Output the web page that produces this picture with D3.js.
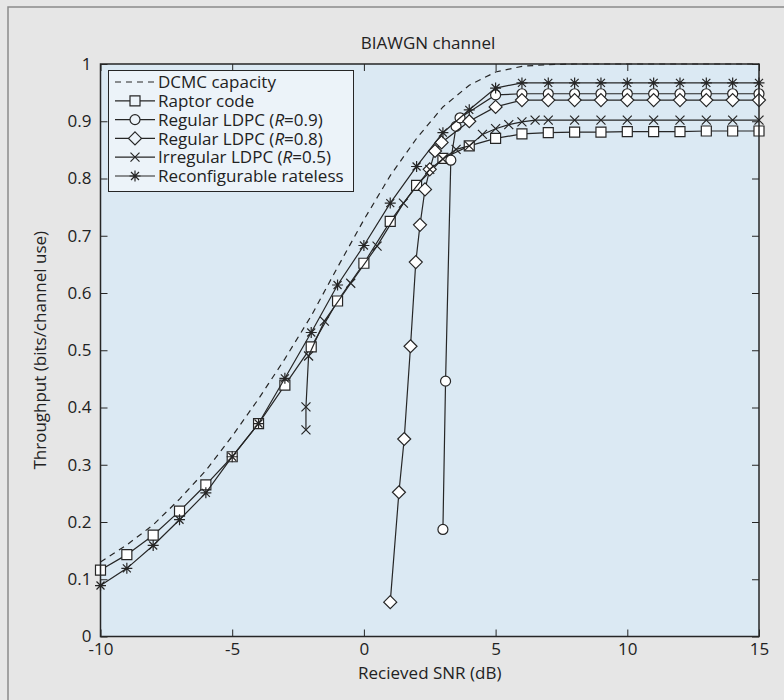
<!DOCTYPE html>
<html>
<head>
<meta charset="utf-8">
<script src="https://cdn.jsdelivr.net/npm/d3@7"></script>
<style>
body { margin: 0; background: #e6e6e6; }
text { font-family: "Open Sans", sans-serif; fill: #222; }
</style>
</head>
<body>
<svg id="chart" width="784" height="700"></svg>
<script>
// ---- data ----
var snrInt = [-10,-9,-8,-7,-6,-5,-4,-3,-2,-1,0,1,2,3,4,5,6,7,8,9,10,11,12,13,14,15];
var dcmcTp = [0.13,0.16,0.195,0.24,0.29,0.35,0.415,0.485,0.56,0.645,0.728,0.805,0.87,0.925,0.963,0.986,0.996,0.999,1,1,1,1,1,1,1,1];
var raptorTp = [0.116,0.143,0.177,0.219,0.265,0.314,0.372,0.439,0.506,0.586,0.652,0.725,0.788,0.835,0.857,0.870,0.878,0.880,0.881,0.881,0.882,0.882,0.882,0.883,0.883,0.883];
var ratelessTp = [0.089,0.119,0.159,0.204,0.251,0.314,0.372,0.451,0.531,0.614,0.683,0.757,0.821,0.880,0.920,0.958,0.967,0.967,0.967,0.967,0.967,0.967,0.967,0.967,0.967,0.967];

var ldpc9Snr = [3.0,3.1,3.3,3.5,3.65,5,6,7,8,9,10,11,12,13,14,15];
var ldpc9Tp  = [0.187,0.446,0.832,0.891,0.906,0.946,0.948,0.948,0.948,0.948,0.948,0.948,0.948,0.948,0.948,0.948];

var ldpc8Snr = [1.0,1.33,1.53,1.77,1.97,2.13,2.32,2.5,2.7,2.95,4,5,6,7,8,9,10,11,12,13,14,15];
var ldpc8Tp  = [0.06,0.252,0.345,0.507,0.654,0.719,0.781,0.816,0.848,0.863,0.9,0.925,0.937,0.937,0.937,0.937,0.937,0.937,0.937,0.937,0.937,0.937];

var irrSnr = [-2.2,-2.2,-2.1,-1.5,-0.5,0.5,1.5,2.5,3,3.5,4,4.5,5,5.5,6,6.5,7,8,9,10,11,12,13,14,15];
var irrTp  = [0.361,0.401,0.49,0.551,0.617,0.682,0.757,0.816,0.834,0.851,0.857,0.877,0.887,0.894,0.899,0.902,0.902,0.902,0.902,0.902,0.902,0.902,0.902,0.902,0.902];

var xTicks = [-10,-5,0,5,10,15];
var xTickLabels = ["-10","-5","0","5","10","15"];
var yTicks = [0,0.1,0.2,0.3,0.4,0.5,0.6,0.7,0.8,0.9,1];
var yTickLabels = ["0","0.1","0.2","0.3","0.4","0.5","0.6","0.7","0.8","0.9","1"];

function zip(xs, ys) { return xs.map(function(x,i){ return {x:x, y:ys[i]}; }); }

var series = [
  {name:"DCMC capacity", data:zip(snrInt,dcmcTp), marker:null, dash:"6,5"},
  {name:"Raptor code", data:zip(snrInt,raptorTp), marker:"square"},
  {name:"Regular LDPC (", it:"R", tail:"=0.9)", data:zip(ldpc9Snr,ldpc9Tp), marker:"circle"},
  {name:"Regular LDPC (", it:"R", tail:"=0.8)", data:zip(ldpc8Snr,ldpc8Tp), marker:"diamond"},
  {name:"Irregular LDPC (", it:"R", tail:"=0.5)", data:zip(irrSnr,irrTp), marker:"x"},
  {name:"Reconfigurable rateless", data:zip(snrInt,ratelessTp), marker:"star"}
];

// ---- layout ----
var plot = {left:100.5, right:759, top:64, bottom:636.5};
var ink = "#262626";

var svg = d3.select("#chart");

// outer frame (only top/left edges fall inside the picture)
svg.append("rect").attr("x",8).attr("y",7).attr("width",820).attr("height",760)
  .attr("fill","#e6e6e6").attr("stroke","#8a8a8a").attr("stroke-width",1.5);

var x = d3.scaleLinear().domain([-10,15]).range([plot.left, plot.right]);
var y = d3.scaleLinear().domain([0,1]).range([plot.bottom, plot.top]);

svg.append("rect")
  .attr("x",plot.left).attr("y",plot.top)
  .attr("width",plot.right-plot.left).attr("height",plot.bottom-plot.top)
  .attr("fill","#dbe9f3");

// marker shapes
function markerPath(type) {
  switch (type) {
    case "square": return "M-5,-5H5V5H-5Z";
    case "circle": return "M5,0A5,5 0 1,1 -5,0A5,5 0 1,1 5,0Z";
    case "diamond": return "M0,-6.5L6.5,0L0,6.5L-6.5,0Z";
    case "x": return "M-4.5,-4.5L4.5,4.5M-4.5,4.5L4.5,-4.5";
    case "star": return "M0,-5.5V5.5M-5.5,0H5.5M-4,-4L4,4M-4,4L4,-4";
  }
  return "";
}

svg.append("clipPath").attr("id","plotclip").append("rect")
  .attr("x",plot.left-8).attr("y",plot.top-8)
  .attr("width",plot.right-plot.left+16).attr("height",plot.bottom-plot.top+16);

var line = d3.line().x(function(d){ return x(d.x); }).y(function(d){ return y(d.y); });

var gData = svg.append("g").attr("clip-path","url(#plotclip)");

series.forEach(function(s) {
  gData.append("path")
    .attr("d", line(s.data))
    .attr("fill","none").attr("stroke",ink).attr("stroke-width",1.2)
    .attr("stroke-dasharray", s.dash || null);
  if (s.marker) {
    gData.selectAll(null).data(s.data).enter().append("path")
      .attr("transform", function(d){ return "translate(" + x(d.x) + "," + y(d.y) + ")"; })
      .attr("d", markerPath(s.marker))
      .attr("fill", (s.marker=="x"||s.marker=="star") ? "none" : "#ffffff")
      .attr("stroke", ink).attr("stroke-width", 1.2);
  }
});

// ---- axes: frame with inward ticks on all four sides ----
var tickLen = 7;
var xAxisB = d3.axisBottom(x).tickValues(xTicks).tickSize(-tickLen).tickPadding(13)
  .tickFormat(function(d,i){ return xTickLabels[i]; });
var xAxisT = d3.axisTop(x).tickValues(xTicks).tickSize(-tickLen).tickFormat("");
var yAxisL = d3.axisLeft(y).tickValues(yTicks).tickSize(-tickLen).tickPadding(9)
  .tickFormat(function(d,i){ return yTickLabels[i]; });
var yAxisR = d3.axisRight(y).tickValues(yTicks).tickSize(-tickLen).tickFormat("");

function styleAxis(g) {
  g.select(".domain").remove();
  g.selectAll(".tick line").attr("stroke",ink).attr("stroke-width",1);
  g.selectAll(".tick text").style("font-family","'Open Sans', sans-serif").style("font-size","17px").attr("fill","#222");
}

svg.append("g").attr("transform","translate(0,"+plot.bottom+")").call(xAxisB).call(styleAxis)
  .selectAll(".tick text").attr("dy","0.35em");
svg.append("g").attr("transform","translate(0,"+plot.top+")").call(xAxisT).call(styleAxis);
svg.append("g").attr("transform","translate("+plot.left+",0)").call(yAxisL).call(styleAxis);
svg.append("g").attr("transform","translate("+plot.right+",0)").call(yAxisR).call(styleAxis);

svg.append("rect")
  .attr("x",plot.left).attr("y",plot.top)
  .attr("width",plot.right-plot.left).attr("height",plot.bottom-plot.top)
  .attr("fill","none").attr("stroke",ink).attr("stroke-width",1.5);

// labels
svg.append("text").attr("x",428).attr("y",49)
  .attr("text-anchor","middle").style("font-size","17px").text("BIAWGN channel");
svg.append("text").attr("x",(plot.left+plot.right)/2).attr("y",679)
  .attr("text-anchor","middle").style("font-size","17px").text("Recieved SNR (dB)");
svg.append("text").attr("transform","translate(46,"+((plot.top+plot.bottom)/2)+") rotate(-90)")
  .attr("text-anchor","middle").style("font-size","17px").text("Throughput (bits/channel use)");

// ---- legend ----
var lg = svg.append("g");
lg.append("rect").attr("x",108.5).attr("y",70.5).attr("width",245).attr("height",121)
  .attr("fill","#ecf3f9").attr("stroke",ink).attr("stroke-width",1);

series.forEach(function(s, i) {
  var cy = 82 + i*18.8;
  lg.append("line").attr("x1",115).attr("x2",155).attr("y1",cy).attr("y2",cy)
    .attr("stroke",ink).attr("stroke-width",1.2).attr("stroke-dasharray", s.dash || null);
  if (s.marker) {
    lg.append("path").attr("transform","translate(135,"+cy+")")
      .attr("d", markerPath(s.marker))
      .attr("fill", (s.marker=="x"||s.marker=="star") ? "none" : "#ecf3f9")
      .attr("stroke",ink).attr("stroke-width",1.2);
  }
  var t = lg.append("text").attr("x",158).attr("y",cy).attr("dy","0.36em").style("font-size","17px");
  t.append("tspan").text(s.name);
  if (s.it) {
    t.append("tspan").style("font-style","italic").text(s.it);
    t.append("tspan").text(s.tail);
  }
});
</script>
</body>
</html>
